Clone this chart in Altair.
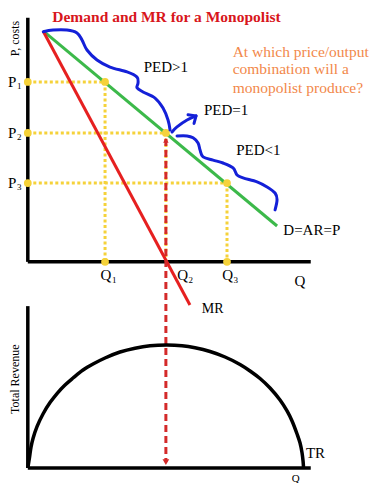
import altair as alt
import pandas as pd

# ---------------- data ----------------
# demand (D = AR = P) and marginal revenue, in (Q, P) units
demand_q = [0.54, 8.81]
demand_p = [9.46, 1.47]
mr_q = [0.54, 5.73]
mr_p = [9.46, -1.77]

# price / output combinations
eq_q = [2.73, 4.88, 7.04]     # Q1, Q2, Q3
eq_p = [7.37, 5.28, 3.23]     # P1, P2, P3
eq_sub = ["1", "2", "3"]

# axis extents
q_axis_end = 10.0
p_axis_top = 10.0
tr_axis_top = 32.9

# total revenue curve (Q, TR)
tr_q = [0.0, 0.06, 0.113, 0.184, 0.325, 0.537, 0.785, 1.032, 1.315, 1.598,
        1.951, 2.305, 2.729, 3.259, 3.789, 4.320, 4.921, 5.451, 5.911, 6.441,
        6.971, 7.501, 7.855, 8.208, 8.561, 8.915, 9.162, 9.339, 9.516, 9.622,
        9.693, 9.728, 9.746]
tr_v = [0.0, 2.13, 4.25, 6.0, 8.41, 10.98, 13.29, 15.14, 16.87, 18.29,
        19.92, 21.14, 22.36, 23.57, 24.35, 24.84, 25.0, 24.84, 24.43, 23.68,
        22.56, 21.04, 19.72, 18.19, 16.26, 13.82, 11.59, 9.55, 6.91, 5.08,
        3.05, 1.42, 0.0]

# hand-drawn elasticity brackets (Q, P)
ped_gt_q = [0.548, 0.891, 1.386, 1.739, 1.916, 2.092, 2.446, 2.905, 3.507,
            3.860, 3.896, 3.860, 4.072, 4.497, 4.779, 4.956, 5.027]
ped_gt_p = [9.43, 9.50, 9.50, 9.38, 9.09, 8.68, 8.27, 7.98, 7.78, 7.57,
            7.33, 7.13, 6.96, 6.71, 6.30, 5.81, 5.40]
ped_eq_q = [5.097, 5.274, 5.628, 5.946]
ped_eq_p = [5.32, 5.53, 5.81, 5.98]
ped_head_q = [5.663, 5.946, 5.875]
ped_head_p = [6.03, 5.98, 5.67]
ped_lt_q = [5.274, 5.628, 5.840, 6.017, 6.088, 6.194, 6.547, 6.901, 7.254,
            7.395, 7.607, 8.102, 8.456, 8.739, 8.809, 8.739]
ped_lt_p = [5.16, 5.16, 5.08, 4.87, 4.58, 4.30, 4.17, 4.05, 3.85, 3.56,
            3.44, 3.28, 3.07, 2.82, 2.54, 2.13]

# annotation anchors
title_text = "Demand and MR for a Monopolist"
question_lines = ["At which price/output", "combination will a", "monopolist produce?"]
question_p = [8.41, 7.69, 6.93]
q_label_q = [2.76, 5.47, 7.06]

# ---------------- styling ----------------
SERIF = "Liberation Serif, Times New Roman, serif"
YELLOW = "#f5d23a"
GREEN = "#3cb94a"
RED = "#e62020"
DRED = "#d42a2a"
BLUE = "#1420d8"
ORANGE = "#f2884a"

xs = alt.Scale(domain=[-0.7, 12.2], nice=False, zero=False)
ps = alt.Scale(domain=[-9.06, 10.40], nice=False, zero=False)
ts = alt.Scale(domain=[-3.05, 93.5], nice=False, zero=False)


def X(f="q"):
    return alt.X(f"{f}:Q", scale=xs, axis=None)


def YP(f="p"):
    return alt.Y(f"{f}:Q", scale=ps, axis=None)


def YT(f="p"):
    return alt.Y(f"{f}:Q", scale=ts, axis=None)


layers = []

# yellow dotted guides
guides = []
for i, (q, p) in enumerate(zip(eq_q, eq_p)):
    guides.append(dict(q=0.0, q2=q, p=p, p2=p))
    guides.append(dict(q=q, q2=q, p=p, p2=0.0))
layers.append(
    alt.Chart(pd.DataFrame(guides)).mark_rule(color=YELLOW, strokeWidth=3, strokeDash=[3, 2.5])
    .encode(x=X(), x2="q2:Q", y=YP(), y2="p2:Q")
)

# axes (upper diagram)
axes_top = pd.DataFrame([
    dict(q=0.0, q2=0.0, p=0.0, p2=p_axis_top),
    dict(q=0.0, q2=q_axis_end, p=0.0, p2=0.0),
])
layers.append(
    alt.Chart(axes_top).mark_rule(color="black", strokeWidth=3.5)
    .encode(x=X(), x2="q2:Q", y=YP(), y2="p2:Q")
)
# axes (lower diagram)
axes_bot = pd.DataFrame([
    dict(q=0.0, q2=0.0, p=0.0, p2=tr_axis_top),
    dict(q=0.0, q2=q_axis_end, p=0.0, p2=0.0),
])
layers.append(
    alt.Chart(axes_bot).mark_rule(color="black", strokeWidth=3.5)
    .encode(x=X(), x2="q2:Q", y=YT(), y2="p2:Q")
)

# demand and MR
layers.append(
    alt.Chart(pd.DataFrame(dict(q=demand_q, p=demand_p))).mark_line(color=GREEN, strokeWidth=3)
    .encode(x=X(), y=YP())
)
layers.append(
    alt.Chart(pd.DataFrame(dict(q=mr_q, p=mr_p))).mark_line(color=RED, strokeWidth=3)
    .encode(x=X(), y=YP())
)

# red dashed drop line from (Q2, P2) to the TR diagram
layers.append(
    alt.Chart(pd.DataFrame([dict(q=eq_q[1], p=eq_p[1] - 0.25, p2=-8.2)]))
    .mark_rule(color=DRED, strokeWidth=3, strokeDash=[7, 4])
    .encode(x=X(), y=YP(), y2="p2:Q")
)
layers.append(
    alt.Chart(pd.DataFrame([dict(q=eq_q[1], p=1.2)]))
    .mark_point(shape="triangle-down", filled=True, size=45, color=DRED, opacity=1)
    .encode(x=X(), y=YT())
)
layers.append(
    alt.Chart(pd.DataFrame([dict(q=eq_q[1], p=eq_p[1] - 0.3)]))
    .mark_point(shape="triangle-up", filled=True, size=30, color=DRED, opacity=1)
    .encode(x=X(), y=YP())
)

# yellow dots
dots = []
for i, (q, p) in enumerate(zip(eq_q, eq_p)):
    dots.append(dict(q=0.0, p=p))
    dots.append(dict(q=q, p=p))
    if i != 1:
        dots.append(dict(q=q, p=0.0))
layers.append(
    alt.Chart(pd.DataFrame(dots)).mark_circle(color=YELLOW, size=60, opacity=1)
    .encode(x=X(), y=YP())
)

# blue hand-drawn brackets
def seq(name, qs, pvals):
    return pd.DataFrame(dict(seg=name, i=list(range(len(qs))), q=qs, p=pvals))

blue_smooth = pd.concat([seq("gt", ped_gt_q, ped_gt_p), seq("lt", ped_lt_q, ped_lt_p),
                         seq("eq", ped_eq_q, ped_eq_p)])
layers.append(
    alt.Chart(blue_smooth).mark_line(color=BLUE, strokeWidth=3, interpolate="cardinal",
                                     strokeCap="round", strokeJoin="round")
    .encode(x=X(), y=YP(), detail="seg:N", order="i:Q")
)
layers.append(
    alt.Chart(seq("head", ped_head_q, ped_head_p)).mark_line(color=BLUE, strokeWidth=3,
                                                             strokeCap="round", strokeJoin="round")
    .encode(x=X(), y=YP(), order="i:Q")
)

# TR curve
layers.append(
    alt.Chart(pd.DataFrame(dict(i=list(range(len(tr_q))), q=tr_q, p=tr_v)))
    .mark_line(color="black", strokeWidth=3.5, interpolate="catmull-rom")
    .encode(x=X(), y=YT(), order="i:Q")
)

# ---------------- text ----------------
def txt(rows, yfun, **kw):
    base = dict(font=SERIF, baseline="alphabetic")
    base.update(kw)
    return alt.Chart(pd.DataFrame(rows)).mark_text(**base).encode(
        x=X(), y=yfun(), text="t:N")

layers.append(txt([dict(t=title_text, q=4.90, p=9.83)], YP,
                  fontSize=15.5, fontWeight="bold", color="#d8161c", align="center"))
layers.append(txt([dict(t=s, q=7.24, p=p) for s, p in zip(question_lines, question_p)], YP,
                  fontSize=15.5, color=ORANGE, align="left"))
layers.append(txt([dict(t="P, costs", q=-0.45, p=9.15)], YP,
                  fontSize=12, color="black", align="center", baseline="middle", angle=270))
layers.append(txt([dict(t="P", q=-0.70, p=p) for p in eq_p], YP,
                  fontSize=15, color="black", align="left", dy=5))
layers.append(txt([dict(t=s, q=-0.70, p=p) for s, p in zip(eq_sub, eq_p)], YP,
                  fontSize=9, color="black", align="left", dx=9, dy=7))
layers.append(txt([dict(t="Q", q=q, p=-0.74) for q in q_label_q], YP,
                  fontSize=15, color="black", align="center"))
layers.append(txt([dict(t=s, q=q, p=-0.74) for s, q in zip(eq_sub, q_label_q)], YP,
                  fontSize=9, color="black", align="left", dx=6, dy=3))
layers.append(txt([dict(t="Q", q=9.62, p=-0.99)], YP,
                  fontSize=15, color="black", align="center"))
layers.append(txt([
    dict(t="PED>1", q=4.88, p=7.79),
    dict(t="PED=1", q=7.01, p=6.02),
    dict(t="PED<1", q=8.15, p=4.38),
], YP, fontSize=15, color="black", align="center"))
layers.append(txt([dict(t="D=AR=P", q=9.03, p=1.10)], YP,
                  fontSize=15, color="black", align="left"))
layers.append(txt([dict(t="MR", q=6.15, p=-2.08)], YP,
                  fontSize=14, color="black", align="left"))
layers.append(txt([dict(t="TR", q=9.83, p=2.09)], YT,
                  fontSize=15, color="black", align="left"))
layers.append(txt([dict(t="Q", q=9.47, p=-2.85)], YT,
                  fontSize=11, color="black", align="center"))
layers.append(txt([dict(t="Total Revenue", q=-0.45, p=18.05)], YT,
                  fontSize=12, color="black", align="center", baseline="middle", angle=270))

chart = (
    alt.layer(*layers)
    .resolve_scale(y="independent")
    .properties(width=365, height=475, padding=0,
                autosize=alt.AutoSizeParams(type="none"))
    .configure_view(stroke=None)
)

chart.save("out.html", embed_options={"renderer": "svg", "actions": False})
